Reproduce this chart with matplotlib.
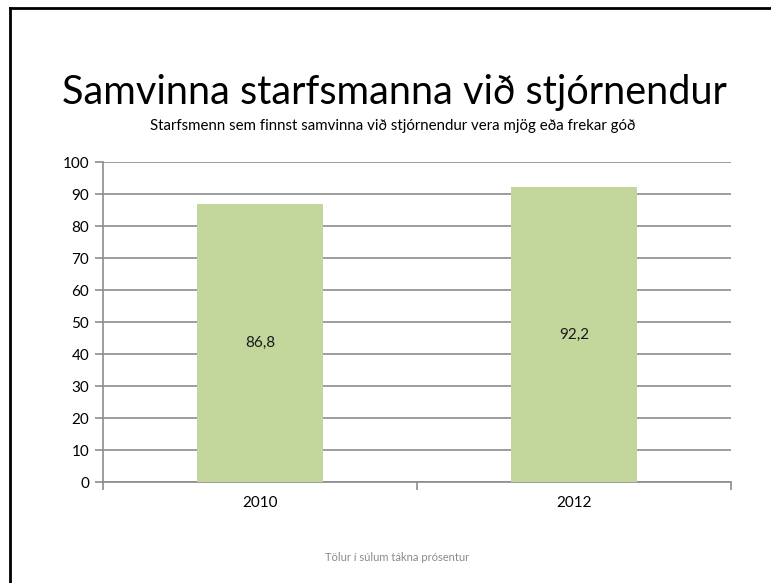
import matplotlib
matplotlib.use("Agg")
import matplotlib.pyplot as plt
from matplotlib.lines import Line2D

plt.rcParams['font.family'] = ['Lato', 'DejaVu Sans']

# gögn
years = ['2010', '2012']
values = [86.8, 92.2]
value_labels = ['86,8', '92,2']
yticks = list(range(0, 101, 10))

title = 'Samvinna starfsmanna við stjórnendur'
subtitle = 'Starfsmenn sem finnst samvinna við stjórnendur vera mjög eða frekar góð'
footnote = 'Tölur í súlum tákna prósentur'

fig = plt.figure(figsize=(7.71, 5.83), dpi=100)
ax = fig.add_axes([0.1336, 0.1732, 0.815, 0.5489])

x = range(len(years))
bars = ax.bar(x, values, width=0.4, color='#c3d69b', zorder=3)
for b, lab in zip(bars, value_labels):
    ax.text(b.get_x() + b.get_width() / 2, b.get_height() / 2, lab,
            ha='center', va='center', fontsize=11, color='#1a1a1a', zorder=4)

ax.set_xlim(-0.5, len(years) - 0.5)
ax.set_ylim(0, 100)
ax.set_yticks(yticks)
ax.yaxis.grid(True, color='#8c8c8c', linewidth=1.2, zorder=0)
ax.set_xticks(list(x))
ax.set_xticklabels(years, fontsize=11)
ax.tick_params(axis='x', length=0, pad=10)
ax.tick_params(axis='y', length=6, color='#8c8c8c', width=1.2, labelsize=11, pad=4)
# kantstrik á x-ás milli flokka
ax.set_xticks([-0.5, 0.5, 1.5], minor=True)
ax.tick_params(axis='x', which='minor', length=6, color='#8c8c8c', width=1.2)

for s in ['top', 'right']:
    ax.spines[s].set_visible(False)
for s in ['left', 'bottom']:
    ax.spines[s].set_color('#8c8c8c')
    ax.spines[s].set_linewidth(1.2)

fig.text(0.512, 0.842, title, ha='center', va='center', fontsize=28.5, color='black')
fig.text(0.509, 0.784, subtitle, ha='center', va='center', fontsize=10.8, color='black')
fig.text(0.515, 0.043, footnote, ha='center', va='center', fontsize=8, color='#8a8a8a')

# rammi efst og vinstra megin
fig.add_artist(Line2D([0.013, 0.013], [0, 0.986], color='black', linewidth=2, transform=fig.transFigure))
fig.add_artist(Line2D([0.013, 1], [0.986, 0.986], color='black', linewidth=2, transform=fig.transFigure))

fig.savefig('out.png', dpi=100)
